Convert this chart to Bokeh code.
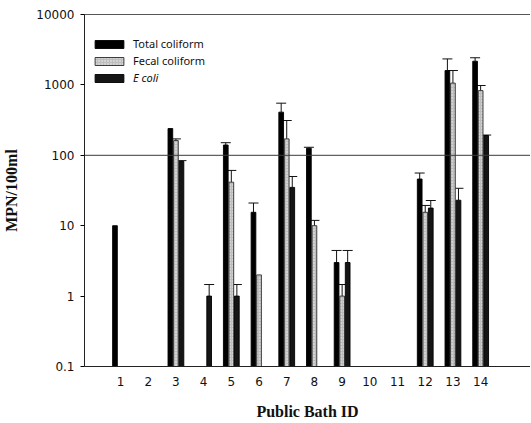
import math
from bokeh.plotting import figure
from bokeh.models import (ColumnDataSource, Range1d, FixedTicker, LinearAxis, Span,
                          Legend, LegendItem, Whisker, TeeHead)
from bokeh.embed import file_html
from bokeh.resources import INLINE

# ---- data ----
bath_ids = list(range(1, 15))
tick_labels = [str(i) for i in bath_ids]
total_coliform = [10, None, 240, None, 140, 15.5, 410, 126, 3, None, None, 46, 1600, 2170]
total_upper    = [None, None, None, None, 151, 21, 550, 130, 4.45, None, None, 56, 2340, 2430]
fecal_coliform = [None, None, 162, None, 41.5, 2, 171, 10, 1, None, None, 15.5, 1060, 830]
fecal_upper    = [None, None, 171, None, 61, None, 312, 11.9, 1.46, None, None, 19.4, 1600, 980]
e_coli         = [None, None, 82, 1, 1, None, 35, None, 3, None, None, 17.8, 23, 191]
e_coli_upper   = [None, None, 84, 1.46, 1.46, None, 50, None, 4.45, None, None, 22.8, 34, 194]
guideline = 100
y_min, y_max = 0.1, 10000

series = [
    ("Total coliform", total_coliform, total_upper, -0.2, "#000000", "#000000", None),
    ("Fecal coliform", fecal_coliform, fecal_upper, 0.0, "#bdbdbd", "#2a2a2a", "."),
    ("E coli", e_coli, e_coli_upper, 0.2, "#151515", "#000000", None),
]

p = figure(width=530, height=422, y_axis_type="log",
           x_range=Range1d(-0.3, 15.80), y_range=Range1d(y_min, y_max),
           output_backend="svg", toolbar_location=None,
           min_border_left=84, min_border_right=0, min_border_top=14, min_border_bottom=56)
p.outline_line_color = None
p.xgrid.visible = False
p.ygrid.visible = False
p.background_fill_color = "white"

renderers = {}
for name, vals, uppers, off, fill, line, hatch in series:
    xs, tops, wx, wl, wu = [], [], [], [], []
    for i, v in enumerate(vals):
        if v is None:
            continue
        xs.append(bath_ids[i] + off)
        tops.append(v)
        if uppers[i] is not None:
            wx.append(bath_ids[i] + off)
            wl.append(v)
            wu.append(uppers[i])
    src = ColumnDataSource(dict(x=xs, top=tops))
    kw = {}
    if hatch:
        kw = dict(hatch_pattern=hatch, hatch_color="white", hatch_scale=3, hatch_alpha=0.8)
    r = p.vbar(x="x", top="top", bottom=y_min, width=0.17, source=src,
               fill_color=fill, line_color=line, line_width=0.9, **kw)
    renderers[name] = r
    wsrc = ColumnDataSource(dict(x=wx, lower=wl, upper=wu))
    w = Whisker(base="x", lower="lower", upper="upper", source=wsrc,
                line_color="#111111", line_width=1,
                upper_head=TeeHead(size=10, line_color="#111111", line_width=1),
                lower_head=None)
    p.add_layout(w)

p.add_layout(Span(location=guideline, dimension="width", line_color="#3a3a3a", line_width=1))

# axes
p.xaxis.ticker = FixedTicker(ticks=bath_ids)
p.xaxis.major_label_overrides = {i: t for i, t in zip(bath_ids, tick_labels)}
p.xaxis.major_tick_line_color = None
p.xaxis.minor_tick_line_color = None
p.xaxis.axis_line_color = "#222222"
p.xaxis.major_label_standoff = 4
p.xaxis.axis_label = "Public Bath ID"
p.xaxis.axis_label_standoff = 14

p.yaxis.ticker = FixedTicker(ticks=[0.1, 1, 10, 100, 1000, 10000])
p.yaxis.major_label_overrides = {0.1: "0.1", 1: "1", 10: "10", 100: "100", 1000: "1000", 10000: "10000"}
p.yaxis.minor_tick_line_color = None
p.yaxis.major_tick_out = 4
p.yaxis.major_tick_in = 0
p.yaxis.major_label_standoff = 6
p.yaxis.axis_line_color = "#222222"
p.yaxis.axis_label = "MPN/100ml"
p.yaxis.axis_label_standoff = 13

for ax in (p.xaxis, p.yaxis):
    ax.major_label_text_font = "DejaVu Sans"
    ax.major_label_text_font_size = "12px"
    ax.major_label_text_color = "#111111"
    ax.axis_label_text_font = "Liberation Serif"
    ax.axis_label_text_font_style = "bold"
    ax.axis_label_text_font_size = "16px"
    ax.axis_label_text_color = "#111111"

top_axis = LinearAxis(ticker=FixedTicker(ticks=[]), axis_line_color="#555555",
                      major_tick_line_color=None, minor_tick_line_color=None)
p.add_layout(top_axis, "above")

legend_style = dict(padding=0, margin=0, spacing=0, border_line_color=None,
                    background_fill_alpha=0, glyph_width=36, glyph_height=10,
                    label_height=17, label_standoff=6,
                    label_text_font="Noto Sans", label_text_font_size="11px",
                    label_text_color="#111111")
leg1 = Legend(items=[LegendItem(label="Total coliform", renderers=[renderers["Total coliform"]]),
                     LegendItem(label="Fecal coliform", renderers=[renderers["Fecal coliform"]])],
              location=(7, 297), **legend_style)
leg2 = Legend(items=[LegendItem(label="E coli", renderers=[renderers["E coli"]])],
              location=(7, 280), label_text_font_style="italic", **legend_style)
p.add_layout(leg1)
p.add_layout(leg2)

open("out.html", "w").write(file_html(p, INLINE))
